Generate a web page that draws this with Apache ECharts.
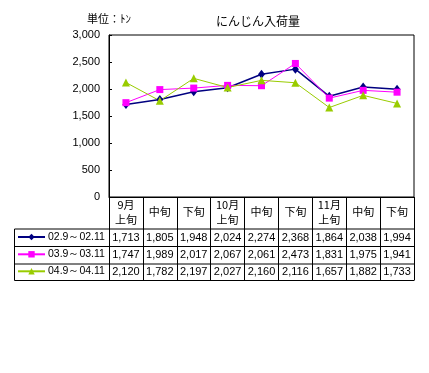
<!DOCTYPE html>
<html><head><meta charset="utf-8">
<script src="https://cdn.jsdelivr.net/npm/echarts@6/dist/echarts.min.js"></script>
<style>html,body{margin:0;padding:0;background:#fff}#c{width:429px;height:373px}</style>
</head><body><div id="c"></div>
<script>
var categories = ['9月\n上旬','中旬','下旬','10月\n上旬','中旬','下旬','11月\n上旬','中旬','下旬'];
var seriesNames = ['02.9～02.11','03.9～03.11','04.9～04.11'];
var s1 = [1713,1805,1948,2024,2274,2368,1864,2038,1994];
var s2 = [1747,1989,2017,2067,2061,2473,1831,1975,1941];
var s3 = [2120,1782,2197,2027,2160,2116,1657,1882,1733];
var yTicks = {min:0, max:3000, interval:500};

var font = '"Liberation Sans", Arial, sans-serif';
var cjk = '"Noto Sans CJK JP", sans-serif';
var colors = ['#000080','#FF00FF','#99CC00'];
var symbols = ['diamond','rect','triangle'];
var symSizes = [[7,9],7,8];
var all = [s1,s2,s3];
function fmt(v){return v.toLocaleString('en-US');}

var chart = echarts.init(document.getElementById('c'), null, {renderer:'canvas'});
var G = {left:109, right:15, top:35, bottom:176};
var rowCenters = [238, 255.3, 272.3];
var xAxes = [{
  type:'category', data:categories, boundaryGap:true, position:'bottom',
  axisLine:{show:true, lineStyle:{color:'#000', width:1}},
  axisTick:{show:true, inside:false, length:83.5, lineStyle:{color:'#000', width:1}},
  axisLabel:{fontSize:11, fontFamily:cjk, color:'#000', margin:15, verticalAlign:'middle', lineHeight:15, interval:0}
}];
all.forEach(function(arr, i){
  xAxes.push({
    type:'category', data:arr.map(fmt), position:'bottom', offset:rowCenters[i]-197,
    axisLine:{show:false}, axisTick:{show:false},
    axisLabel:{fontSize:11, fontFamily:font, color:'#000', margin:0, verticalAlign:'middle', interval:0}
  });
});

var legends = seriesNames.map(function(n,i){
  return {orient:'vertical', left:17, top:rowCenters[i]-6.5, itemWidth:27, itemHeight:8, padding:0,
          textStyle:{fontSize:10.5, fontFamily:font, color:'#000', padding:[0,0,0,-2]}, data:[n]};
});

var option = {
  animation:false,
  title:[{text:'にんじん入荷量', left:253, top:10, textAlign:'center',
          textStyle:{fontSize:12, fontWeight:'normal', fontFamily:cjk, color:'#000'}},
         {text:'単位：ﾄﾝ', left:82, top:8,
          textStyle:{fontSize:11, fontWeight:'normal', fontFamily:cjk, color:'#000'}}],
  grid:{left:G.left, right:G.right, top:G.top, bottom:G.bottom, show:true, borderColor:'#000', borderWidth:1, backgroundColor:'#fff'},
  legend:legends,
  xAxis:xAxes,
  yAxis:{type:'value', min:yTicks.min, max:yTicks.max, interval:yTicks.interval,
    axisLine:{show:true, lineStyle:{color:'#000'}},
    axisTick:{show:true, inside:true, length:3, lineStyle:{color:'#000'}},
    splitLine:{show:false},
    axisLabel:{fontSize:11, fontFamily:font, color:'#000', margin:9, formatter:function(v){return fmt(v);}}},
  series: all.map(function(arr,i){
    return {name:seriesNames[i], type:'line', data:arr, xAxisIndex:0,
      symbol:symbols[i], symbolSize:symSizes[i], showSymbol:true,
      lineStyle:{color:colors[i], width: i===0?1.5:1},
      itemStyle:{color:colors[i]}};
  })
};
chart.setOption(option);

var x0 = 14.5, x1 = 414;
var hy = [229, 246.5, 264, 280.5];
var g = [];
hy.forEach(function(y){
  g.push({type:'line', shape:{x1:x0, y1:y, x2:x1, y2:y}, style:{stroke:'#000', lineWidth:1}});
});
g.push({type:'line', shape:{x1:x0, y1:hy[0], x2:x0, y2:hy[3]}, style:{stroke:'#000', lineWidth:1}});
chart.setOption({graphic:g});
</script></body></html>
